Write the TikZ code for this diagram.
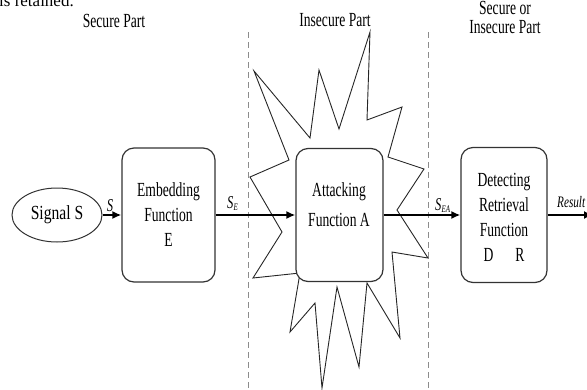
\documentclass[tikz,border=0pt]{standalone}
\usepackage{fontspec}
\setmainfont{Liberation Serif}[FakeStretch=0.68]
\newfontfamily\plainserif{Liberation Serif}
\newfontfamily\sigfont{Liberation Serif}[FakeStretch=0.78]
\newfontfamily\labfont{Liberation Serif}[FakeStretch=0.7]
\usetikzlibrary{arrows.meta,shapes.geometric}
\begin{document}
\begin{tikzpicture}[x=1pt,y=-1pt,
  box/.style={draw=black!80, line width=1.2pt, rounded corners=12pt, fill=white,
    align=center, font=\fontsize{20}{25}\selectfont, inner sep=0pt},
  flow/.style={-{Latex[length=9pt,width=8pt]}, line width=1.8pt},
  divider/.style={draw=black!45, dash pattern=on 6pt off 4pt, line width=0.9pt},
  burst/.style={draw=black!85, line width=0.9pt, line join=miter, fill=white},
  lbl/.style={font=\fontsize{20}{19}\selectfont, inner sep=0pt, align=center},
  sig/.style={font=\labfont\fontsize{18}{18}\selectfont\itshape, inner sep=0pt}]
\useasboundingbox (0,0) rectangle (587,389);

% cut-off line of the surrounding text
\node[anchor=base west, inner sep=0pt, font=\plainserif\fontsize{17}{20}\selectfont] (retained) at (-1,6) {is retained.};

% dashed dividers
\coordinate (d1top) at (248,32);
\coordinate (d1bot) at (248,392);
\coordinate (d2top) at (428,32);
\coordinate (d2bot) at (428,392);
\draw[divider] (d1top) -- (d1bot);
\draw[divider] (d2top) -- (d2bot);

% region titles
\node[lbl, anchor=base] (securepart) at (114,27) {Secure Part};
\node[lbl, anchor=base] (insecurepart) at (335,26) {Insecure Part};
\node[lbl, anchor=north] (eitherpart) at (505,1) {Secure or\\Insecure Part};

% attack burst
\draw[burst] (254,71) -- (310,138) -- (319,70) -- (339,129) -- (370,32) -- (367,120)
  -- (402,107) -- (388,157) -- (424,169) -- (397,210) -- (428,258) -- (392,252)
  -- (400,338) -- (367,283) -- (359,367) -- (337,287) -- (322,388) -- (315,303)
  -- (290,332) -- (300,273) -- (253,278) -- (282,232) -- (250,177) -- (289,160) -- cycle;

% nodes
\node[draw=black!80, line width=1pt, ellipse, minimum width=90pt, minimum height=54pt,
  inner sep=0pt, font=\sigfont\fontsize{20}{20}\selectfont] (sig) at (57,215) {Signal S};
\node[box, minimum width=93pt, minimum height=134pt] (E) at (168.5,215)
  {Embedding\\Function\\E};
\node[box, minimum width=87pt, minimum height=133pt] (A) at (339.5,215) {};
\node[inner sep=0pt, align=center, font=\fontsize{20}{30}\selectfont] (Atext) at (339,205)
  {Attacking\\Function A};
\node[box, minimum width=86pt, minimum height=135pt] (DR) at (504,215) {};
\node[inner sep=0pt, align=center, font=\fontsize{20}{25}\selectfont] (DRtext) at (504,217)
  {Detecting\\Retrieval\\Function\\D\hspace{1.1em}R};
\coordinate (resend) at (593,215);

% connectors
\draw[flow] (sig.east) -- (E.west);
\draw[flow] (E.east) -- (A.west);
\draw[flow] (A.east) -- (DR.west);
\draw[flow] (DR.east) -- (resend);

% connector labels
\node[sig, anchor=base] (lS) at (110,211) {S};
\node[sig, anchor=base west] (lSE) at (227,208) {S\raisebox{-2.5pt}{\fontsize{10}{10}\selectfont E}};
\node[sig, anchor=base west] (lSEA) at (435,210) {S\raisebox{-2.5pt}{\fontsize{10}{10}\selectfont EA}};
\node[sig, anchor=base west, font=\labfont\fontsize{16}{16}\selectfont\itshape] (lres) at (557,207) {Result};
\end{tikzpicture}
\end{document}
